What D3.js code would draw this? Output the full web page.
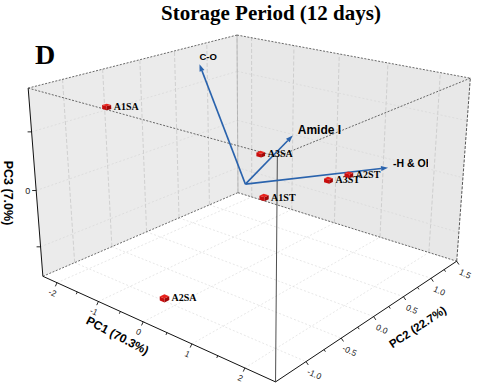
<!DOCTYPE html>
<html>
<head>
<meta charset="utf-8">
<script src="https://cdn.jsdelivr.net/npm/d3@7"></script>
<style>
  body { margin: 0; background: #fff; }
  svg { display: block; }
</style>
</head>
<body>
<svg width="480" height="389"></svg>
<script>
// PCA scores
var samples = ['A1SA', 'A3SA', 'A1ST', 'A3ST', 'A2ST', 'A2SA'];
var pc1 = [-1.98, -0.21, 0.60, 0.92, 1.03, -0.10];
var pc2 = [-0.67, 0.38, -0.15, 0.60, 0.85, -1.07];
var pc3 = [1.20, 0.30, 0.00, 0.00, 0.00, -1.40];

// loadings (vectors)
var loadings = ['C-O', 'Amide I', '-H & OH'];
var load1 = [-1.95, -0.05, 1.34];
var load2 = [0.62, 0.77, 1.27];
var load3 = [1.50, 0.50, 0.00];

// ticks
var pc1Ticks = [-2, -1, 0, 1, 2];
var pc1Minor = [-1.5, -0.5, 0.5, 1.5];
var pc2Ticks = [-1.0, -0.5, 0.0, 0.5, 1.0, 1.5];
var pc2Minor = [-0.75, -0.25, 0.25, 0.75, 1.25];
var pc3Ticks = [-1, 0, 1];
var pc3Shown = [0];

var svg = d3.select('svg');

var sx = d3.scaleLinear().domain([-2.36, 2.54]).range([0, 1]);
var sy = d3.scaleLinear().domain([-1.4, 1.5]).range([0, 1]);
var sz = d3.scaleLinear().domain([-1.54, 1.72]).range([0, 1]);

// where the unit box corners land on screen (camera calibration)
var boxCorners = [
  [0, 0, 0, 43, 276], [1, 0, 0, 275, 382], [1, 1, 0, 457, 261], [0, 1, 0, 238, 193],
  [0, 0, 1, 28, 88], [1, 0, 1, 278, 157], [1, 1, 1, 470, 78], [0, 1, 1, 237, 35]
];

// least squares perspective camera (DLT)
function fitCamera(pts) {
  var A = [], B = [];
  pts.forEach(function (p) {
    var X = p[0], Y = p[1], Z = p[2], u = (p[3] - 240) / 200, v = (p[4] - 200) / 200;
    A.push([X, Y, Z, 1, 0, 0, 0, 0, -u * X, -u * Y, -u * Z]); B.push(u);
    A.push([0, 0, 0, 0, X, Y, Z, 1, -v * X, -v * Y, -v * Z]); B.push(v);
  });
  var n = 11, M = [], r = [];
  for (var i = 0; i < n; i++) {
    M[i] = [];
    for (var j = 0; j < n; j++) {
      var s = 0;
      for (var k = 0; k < A.length; k++) s += A[k][i] * A[k][j];
      M[i][j] = s;
    }
    var t = 0;
    for (k = 0; k < A.length; k++) t += A[k][i] * B[k];
    r[i] = t;
  }
  for (i = 0; i < n; i++) {
    var p = i;
    for (k = i + 1; k < n; k++) if (Math.abs(M[k][i]) > Math.abs(M[p][i])) p = k;
    var tmp = M[i]; M[i] = M[p]; M[p] = tmp;
    tmp = r[i]; r[i] = r[p]; r[p] = tmp;
    for (k = i + 1; k < n; k++) {
      var f = M[k][i] / M[i][i];
      for (j = i; j < n; j++) M[k][j] -= f * M[i][j];
      r[k] -= f * r[i];
    }
  }
  var x = new Array(n);
  for (i = n - 1; i >= 0; i--) {
    var s2 = r[i];
    for (j = i + 1; j < n; j++) s2 -= M[i][j] * x[j];
    x[i] = s2 / M[i][i];
  }
  return x;
}
var m = fitCamera(boxCorners);

function proj(a, b, c) {
  var w = m[8] * a + m[9] * b + m[10] * c + 1;
  var u = (m[0] * a + m[1] * b + m[2] * c + m[3]) / w;
  var v = (m[4] * a + m[5] * b + m[6] * c + m[7]) / w;
  return [u * 200 + 240, v * 200 + 200];
}
function pt(d1, d2, d3) { return proj(sx(d1), sy(d2), sz(d3)); }

var line = d3.line();
function poly(arr) { return line(arr.map(function (q) { return proj(q[0], q[1], q[2]); })) + 'Z'; }
function seg(g, p0, p1, stroke, width, dash) {
  g.append('path')
    .attr('d', line([proj(p0[0], p0[1], p0[2]), proj(p1[0], p1[1], p1[2])]))
    .attr('fill', 'none')
    .attr('stroke', stroke)
    .attr('stroke-width', width)
    .attr('stroke-dasharray', dash || null);
}

// title
svg.append('text')
  .attr('x', 271).attr('y', 20)
  .attr('text-anchor', 'middle')
  .style('font-family', 'Liberation Serif, Times New Roman, serif')
  .style('font-weight', 'bold')
  .style('font-size', '21px')
  .text('Storage Period (12 days)');

svg.append('text')
  .attr('x', 35).attr('y', 64)
  .style('font-family', 'Liberation Serif, Times New Roman, serif')
  .style('font-weight', 'bold')
  .style('font-size', '28px')
  .text('D');

// walls and floor
var box = svg.append('g');
box.append('path').attr('d', poly([[0, 0, 0], [0, 1, 0], [0, 1, 1], [0, 0, 1]])).attr('fill', '#ebebeb');
box.append('path').attr('d', poly([[0, 1, 0], [1, 1, 0], [1, 1, 1], [0, 1, 1]])).attr('fill', '#e8e8e8');
box.append('path').attr('d', poly([[0, 0, 0], [1, 0, 0], [1, 1, 0], [0, 1, 0]])).attr('fill', '#ffffff');

// grid
var grid = svg.append('g');
pc2Ticks.forEach(function (v) {
  var b = sy(v);
  seg(grid, [0, b, 0], [0, b, 1], '#bcbcbc', 0.6, '4,2');
  seg(grid, [0, b, 0], [1, b, 0], '#d6d6d6', 0.6, '2,2');
});
pc1Ticks.forEach(function (v) {
  var a = sx(v);
  seg(grid, [a, 1, 0], [a, 1, 1], '#bcbcbc', 0.6, '4,2');
  seg(grid, [a, 0, 0], [a, 1, 0], '#d6d6d6', 0.6, '2,2');
});
pc3Ticks.forEach(function (v) {
  var c = sz(v);
  seg(grid, [0, 0, c], [0, 1, c], '#d4d4d4', 0.6, '2,2');
  seg(grid, [0, 1, c], [1, 1, c], '#d4d4d4', 0.6, '2,2');
});

// back edges
var edges = svg.append('g');
seg(edges, [0, 0, 0], [0, 1, 0], '#444', 0.8, '2,1.5');
seg(edges, [0, 1, 0], [1, 1, 0], '#444', 0.8, '2,1.5');
seg(edges, [0, 1, 0], [0, 1, 1], '#a0a0a0', 0.6);
seg(edges, [0, 0, 1], [0, 1, 1], '#444', 0.8, '2,1.5');
seg(edges, [0, 1, 1], [1, 1, 1], '#444', 0.8, '2,1.5');
seg(edges, [1, 1, 0], [1, 1, 1], '#444', 0.9, '3,1.5');

// axes
var axes = svg.append('g');
seg(axes, [0, 0, 0], [1, 0, 0], '#111', 1);
seg(axes, [1, 0, 0], [1, 1, 0], '#111', 1);
seg(axes, [0, 0, 0], [0, 0, 1], '#111', 1);

function axisFrame(p0, p1, outward) {
  var dx = p1[0] - p0[0], dy = p1[1] - p0[1], L = Math.hypot(dx, dy);
  var ux = dx / L, uy = dy / L;
  var nx = -uy, ny = ux;
  if (nx * outward[0] + ny * outward[1] < 0) { nx = -nx; ny = -ny; }
  return { ux: ux, uy: uy, nx: nx, ny: ny, ang: Math.atan2(uy, ux) * 180 / Math.PI };
}
var fr1 = axisFrame(proj(0, 0, 0), proj(1, 0, 0), [-1, 1]);
var fr2 = axisFrame(proj(1, 0, 0), proj(1, 1, 0), [1, 1]);
var fmt = function (v, d) { return d3.format(d)(v).replace('\u2212', '-'); };
var tickFont = 'Liberation Sans, Arial, sans-serif';

function tickMark(p, fr, len) {
  axes.append('line')
    .attr('x1', p[0]).attr('y1', p[1])
    .attr('x2', p[0] + fr.nx * len).attr('y2', p[1] + fr.ny * len)
    .attr('stroke', '#111').attr('stroke-width', 0.9);
}
pc1Ticks.forEach(function (v) {
  var p = proj(sx(v), 0, 0);
  tickMark(p, fr1, 4);
  axes.append('text')
    .attr('transform', 'translate(' + (p[0] + fr1.nx * 11) + ',' + (p[1] + fr1.ny * 11) + ') rotate(' + fr1.ang + ')')
    .attr('text-anchor', 'middle').attr('dy', '0.35em')
    .style('font-family', tickFont).style('font-size', '8.5px').attr('fill', '#222')
    .text(fmt(v, 'd'));
});
pc1Minor.forEach(function (v) { tickMark(proj(sx(v), 0, 0), fr1, 2.5); });
pc2Ticks.forEach(function (v) {
  var p = proj(1, sy(v), 0);
  tickMark(p, fr2, 4);
  axes.append('text')
    .attr('transform', 'translate(' + (p[0] + fr2.nx * 15) + ',' + (p[1] + fr2.ny * 15) + ') rotate(' + fr1.ang + ')')
    .attr('text-anchor', 'middle').attr('dy', '0.35em')
    .style('font-family', tickFont).style('font-size', '8.5px').attr('fill', '#222')
    .text(fmt(v, '.1f'));
});
pc2Minor.forEach(function (v) { tickMark(proj(1, sy(v), 0), fr2, 2.5); });
pc3Ticks.forEach(function (v) {
  var p = proj(0, 0, sz(v));
  axes.append('line')
    .attr('x1', p[0]).attr('y1', p[1]).attr('x2', p[0] - 4).attr('y2', p[1])
    .attr('stroke', '#111').attr('stroke-width', 0.9);
  if (pc3Shown.indexOf(v) >= 0) {
    axes.append('text')
      .attr('x', p[0] - 6).attr('y', p[1]).attr('dy', '0.35em')
      .attr('text-anchor', 'end')
      .style('font-family', tickFont).style('font-size', '9px').attr('fill', '#222')
      .text(String(v));
  }
});

// axis titles
var titleFont = 'Liberation Sans, Arial, sans-serif';
var a1 = proj(0.41, 0, 0);
svg.append('text')
  .attr('transform', 'translate(' + (a1[0] + fr1.nx * 23) + ',' + (a1[1] + fr1.ny * 23) + ') rotate(' + (fr1.ang + 3) + ')')
  .attr('text-anchor', 'middle').attr('dy', '0.35em')
  .style('font-family', titleFont).style('font-weight', 'bold').style('font-size', '12px')
  .text('PC1 (70.3%)');
var a2 = proj(1, 0.63, 0);
svg.append('text')
  .attr('transform', 'translate(' + (a2[0] + fr2.nx * 33) + ',' + (a2[1] + fr2.ny * 33) + ') rotate(' + fr2.ang + ')')
  .attr('text-anchor', 'middle').attr('dy', '0.35em')
  .style('font-family', titleFont).style('font-weight', 'bold').style('font-size', '11.5px')
  .text('PC2 (22.7%)');
svg.append('text')
  .attr('transform', 'translate(4,193) rotate(90)')
  .attr('text-anchor', 'middle')
  .style('font-family', titleFont).style('font-weight', 'bold').style('font-size', '12.5px')
  .text('PC3 (7.0%)');

// front vertical edge
var front = svg.append('g');
seg(front, [1, 0, 0], [1, 0, 1], '#222', 0.8);

// loading vectors
var vecColor = '#2a63ad';
var o = pt(0, 0, 0);
var vecs = svg.append('g');
svg.append('clipPath').attr('id', 'clipR')
  .append('rect').attr('x', 0).attr('y', 0).attr('width', 428).attr('height', 389);
loadings.forEach(function (name, i) {
  var t = pt(load1[i], load2[i], load3[i]);
  var dx = t[0] - o[0], dy = t[1] - o[1], L = Math.hypot(dx, dy);
  var ux = dx / L, uy = dy / L, hl = 7, hw = 2.6;
  var bx = t[0] - ux * hl, by = t[1] - uy * hl;
  vecs.append('path').attr('d', line([o, [bx, by]]))
    .attr('stroke', vecColor).attr('stroke-width', 1.6).attr('fill', 'none');
  vecs.append('path')
    .attr('d', line([t, [bx - uy * hw, by + ux * hw], [bx + uy * hw, by - ux * hw]]) + 'Z')
    .attr('fill', vecColor);
  var steep = Math.abs(uy) > 0.9;
  vecs.append('text')
    .attr('x', steep ? t[0] : t[0] + 5)
    .attr('y', steep ? t[1] - 4 : t[1] - 1)
    .attr('clip-path', 'url(#clipR)')
    .style('font-family', titleFont).style('font-weight', 'bold')
    .style('font-size', name === 'Amide I' ? '12px' : (steep ? '9.5px' : '10.5px'))
    .text(name);
});

// sample cubes
var pts = svg.append('g');
var h = 0.0105;
samples.forEach(function (name, i) {
  var a = sx(pc1[i]), b = sy(pc2[i]), c = sz(pc3[i]);
  pts.append('path').attr('d', poly([[a - h, b - h, c - h], [a + h, b - h, c - h], [a + h, b - h, c + h], [a - h, b - h, c + h]])).attr('fill', '#c80d0d');
  pts.append('path').attr('d', poly([[a + h, b - h, c - h], [a + h, b + h, c - h], [a + h, b + h, c + h], [a + h, b - h, c + h]])).attr('fill', '#a00707');
  pts.append('path').attr('d', poly([[a - h, b - h, c + h], [a + h, b - h, c + h], [a + h, b + h, c + h], [a - h, b + h, c + h]])).attr('fill', '#e8231d');
  var p = proj(a, b, c);
  pts.append('text')
    .attr('x', p[0] + 7).attr('y', p[1] + 3)
    .style('font-family', 'Liberation Serif, Times New Roman, serif')
    .style('font-weight', 'bold').style('font-size', '10px')
    .text(name);
});

// front top edges (dashed)
seg(front, [0, 0, 1], [1, 0, 1], '#444', 0.8, '2,1.5');
seg(front, [1, 0, 1], [1, 1, 1], '#444', 0.8, '2,1.5');
</script>
</body>
</html>
